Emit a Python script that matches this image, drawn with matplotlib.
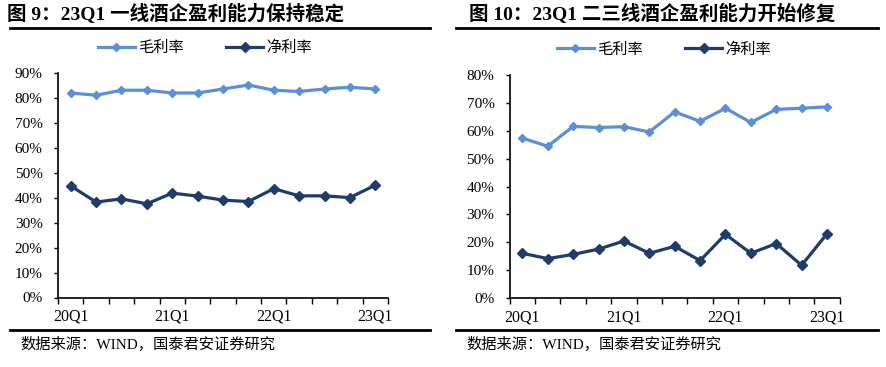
import numpy as np
import matplotlib
matplotlib.use("Agg")
import matplotlib.pyplot as plt
from matplotlib.lines import Line2D

plt.rcParams['font.family'] = ['Liberation Serif', 'Noto Sans CJK SC']

# 数据
quarters = ['20Q1', '20Q2', '20Q3', '20Q4', '21Q1', '21Q2', '21Q3', '21Q4',
            '22Q1', '22Q2', '22Q3', '22Q4', '23Q1']
shown_labels = ['20Q1', '21Q1', '22Q1', '23Q1']

# 图9 一线酒企
gross_t1 = [82.1, 81.2, 83.2, 83.2, 82.1, 82.1, 83.7, 85.3, 83.2, 82.7, 83.7, 84.4, 83.7]
net_t1 = [44.8, 38.3, 39.6, 37.6, 41.9, 40.7, 39.1, 38.5, 43.7, 40.8, 40.8, 40.1, 45.1]

# 图10 二三线酒企
gross_t23 = [57.3, 54.4, 61.5, 61.1, 61.4, 59.5, 66.7, 63.3, 68.0, 62.9, 67.6, 68.0, 68.5]
net_t23 = [16.1, 14.2, 15.7, 17.6, 20.5, 16.1, 18.6, 13.5, 22.9, 16.1, 19.6, 11.8, 23.1]

titles = ['图 9：23Q1 一线酒企盈利能力保持稳定', '图 10：23Q1 二三线酒企盈利能力开始修复']
source = '数据来源：WIND，国泰君安证券研究'
legend_names = ['毛利率', '净利率']

c_gross = '#5b8fd6'
c_net = '#1f3d6b'

W, H = 886, 367
fig = plt.figure(figsize=(W / 100, H / 100), dpi=100)


def fx(px):
    return px / W


def fy(py):
    return 1 - py / H


panels = [
    dict(ax=[58, 388, 73.3, 297.5], ymax=90, gross=gross_t1, net=net_t1,
         title_x=7, line=(10, 430), src_x=20, leg_x=0.445),
    dict(ax=[509.7, 839.7, 74.7, 298.3], ymax=80, gross=gross_t23, net=net_t23,
         title_x=469, line=(456, 878), src_x=466, leg_x=0.467),
]

for p, title in zip(panels, titles):
    x0, x1, yt, yb = p['ax']
    ax = fig.add_axes([fx(x0), fy(yb), fx(x1 - x0), fy(yt) - fy(yb)])
    x = np.arange(len(quarters))
    ax.plot(x, p['gross'], color=c_gross, lw=2.3, marker='D', ms=4)
    ax.plot(x, p['net'], color=c_net, lw=2.3, marker='D', ms=5.5)

    ax.set_xlim(-0.5, len(quarters) - 0.5)
    ax.set_ylim(0, p['ymax'])
    ax.set_yticks(np.arange(0, p['ymax'] + 1, 10))
    ax.set_yticklabels([f'{v}%' for v in range(0, p['ymax'] + 1, 10)], fontsize=11)
    ax.set_xticks([quarters.index(q) for q in shown_labels])
    ax.set_xticklabels(shown_labels, fontsize=11.5)
    ax.tick_params(axis='x', length=0, pad=8)
    ax.set_xticks(np.arange(-0.5, len(quarters)), minor=True)
    ax.tick_params(axis='x', which='minor', length=4, width=1, direction='out')
    ax.tick_params(axis='y', length=3, width=1, direction='out', pad=8)
    for s in ['top', 'right']:
        ax.spines[s].set_visible(False)
    for s in ['left', 'bottom']:
        ax.spines[s].set_linewidth(1.2)

    handles = [Line2D([], [], color=c_gross, lw=2.3, marker='D', ms=4),
               Line2D([], [], color=c_net, lw=2.3, marker='D', ms=5)]
    ax.legend(handles, legend_names, loc='center', bbox_to_anchor=(p['leg_x'], 1.113),
              ncol=2, frameon=False, fontsize=11, handlelength=2.4,
              handletextpad=0.2, columnspacing=2.8)

    # 标题与分隔线
    fig.text(fx(p['title_x']), fy(14), title, fontsize=14, fontweight='bold',
             va='center', ha='left')
    l0, l1 = p['line']
    fig.add_artist(Line2D([fx(l0), fx(l1)], [fy(28), fy(28)], color='black', lw=2))
    fig.add_artist(Line2D([fx(l0), fx(l1)], [fy(330), fy(330)], color='black', lw=2))
    fig.text(fx(p['src_x']), fy(344), source, fontsize=11, va='center', ha='left')

fig.savefig('out.png', dpi=100)
